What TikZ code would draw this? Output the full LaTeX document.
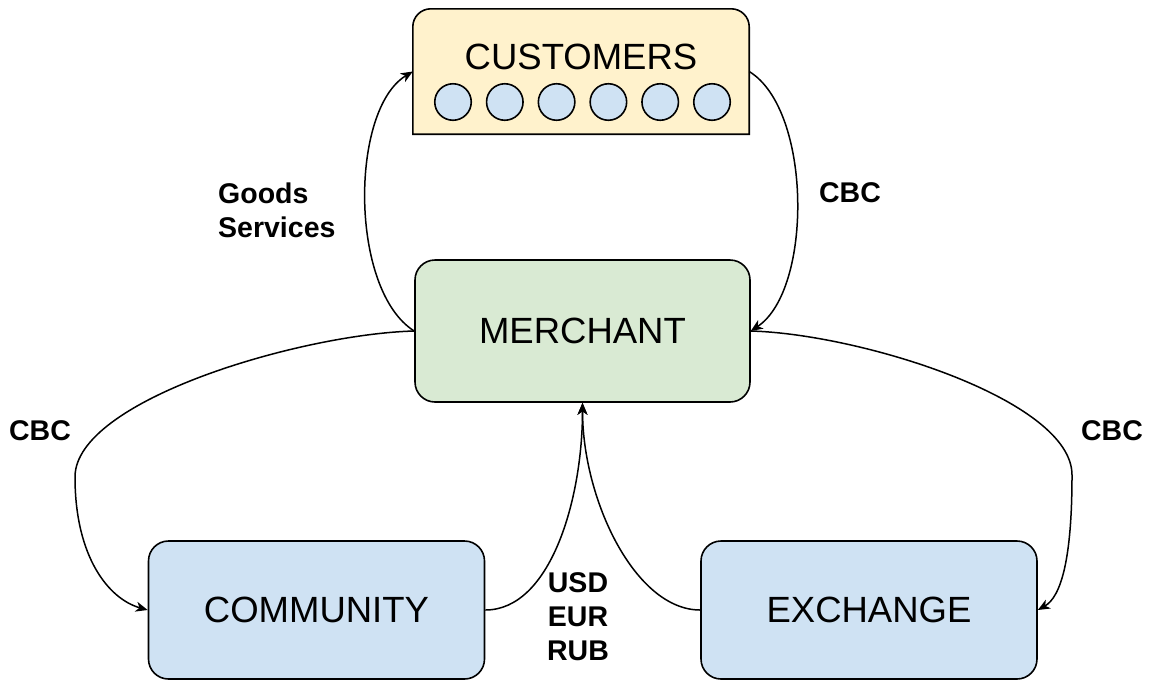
\documentclass[tikz,border=0pt]{standalone}
\usepackage{fontspec}
\setmainfont{Liberation Sans}
\usetikzlibrary{arrows.meta}
\definecolor{yel}{HTML}{FFF2CC}
\definecolor{grn}{HTML}{D9EAD3}
\definecolor{blu}{HTML}{CFE2F3}
\begin{document}
\begin{tikzpicture}[x=1pt,y=1pt,
  box/.style={draw=black, line width=1.6pt, rounded corners=20pt, minimum width=335pt, minimum height=142pt, inner sep=0pt, font=\fontsize{36.5}{40}\selectfont},
  dot/.style={circle, draw=black, line width=1.6pt, fill=blu, minimum size=36.5pt, inner sep=0pt},
  lbl/.style={font=\bfseries\fontsize{28.5}{34}\selectfont, align=center, inner sep=0pt},
  edge/.style={line width=1.5pt, -{Stealth[length=12pt,width=10pt,inset=3.5pt]}}]
\useasboundingbox (0,0) rectangle (1150,-681);
% nodes
\node[box, fill=grn] (merchant) at (582.5,-331) {MERCHANT};
\node[box, fill=blu, minimum height=138pt, minimum width=336pt] (community) at (316.5,-610) {COMMUNITY};
\node[box, fill=blu, minimum height=138pt, minimum width=336pt] (exchange) at (869,-610) {EXCHANGE};
\node[minimum width=336pt, minimum height=125pt, inner sep=0pt] (customers) at (581,-71.5) {};
\draw[line width=1.6pt, fill=yel] (customers.south west) -- ([yshift=-18pt]customers.north west) arc[start angle=180, end angle=90, radius=18pt] -- ([xshift=-18pt]customers.north east) arc[start angle=90, end angle=0, radius=18pt] -- (customers.south east) -- cycle;
\node[font=\fontsize{36.5}{40}\selectfont, inner sep=0pt] (custtext) at (581,-57) {CUSTOMERS};
\foreach \i in {0,...,5} {
  \node[dot] (c\i) at (453+51.8*\i,-102) {};
}
% labels
\node[lbl, align=left, anchor=west] (goods) at (218,-210) {Goods\\Services};
\node[lbl] (cbc1) at (850,-193) {CBC};
\node[lbl] (cbc2) at (40,-431) {CBC};
\node[lbl] (cbc3) at (1112,-431) {CBC};
\node[lbl] (cur) at (578,-617) {USD\\EUR\\RUB};
% connectors
\coordinate (lw) at (75,-477);
\coordinate (rw) at (1072,-475);
\draw[edge] (merchant.west) .. controls +(-65,41) and +(-63,-38) .. (customers.west);
\draw[edge] (customers.east) .. controls +(63,-38.5) and +(62,41) .. (merchant.east);
\draw[edge] (merchant.west) .. controls +(-113,-3) and +(0,77) .. (lw) .. controls +(0,-80) and +(-39,11) .. (community.west);
\draw[edge] (merchant.east) .. controls +(110,-3) and +(0,75) .. (rw) .. controls +(0,-85) and +(23,13) .. (exchange.east);
\draw[edge] (community.east) .. controls +(65,0) and +(0,-97) .. (merchant.south);
\draw[edge] (exchange.west) .. controls +(-65,0) and +(0,-97) .. (merchant.south);
\end{tikzpicture}
\end{document}
